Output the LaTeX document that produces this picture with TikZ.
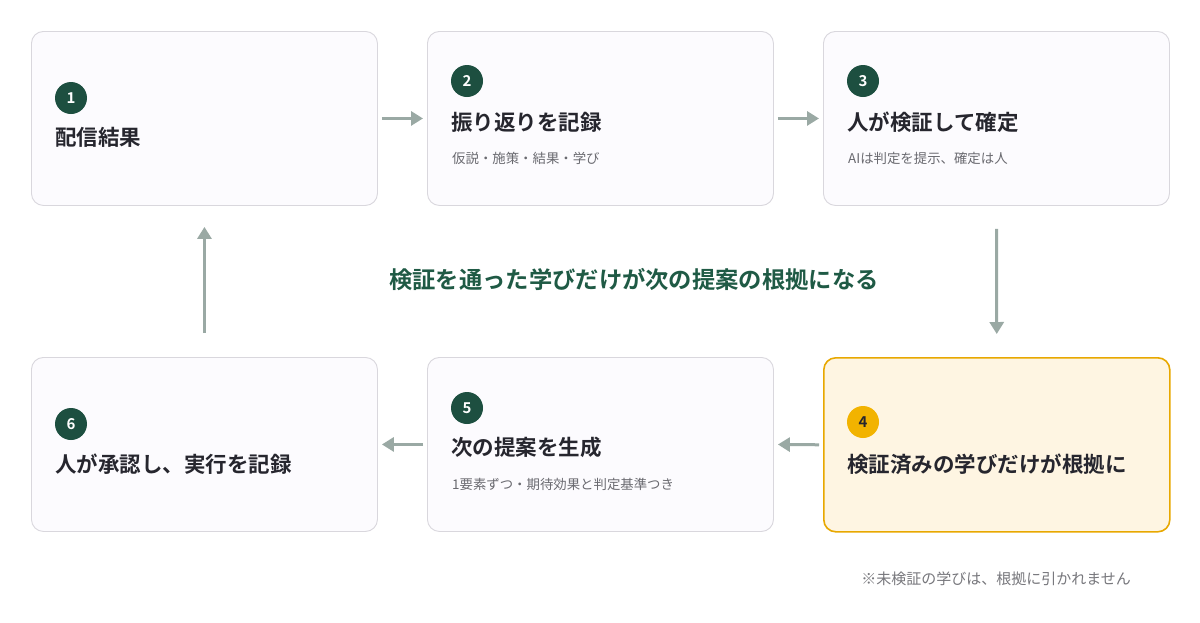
\documentclass[tikz,border=0pt]{standalone}
\usepackage{fontspec}
\setmainfont{Noto Sans CJK JP}[BoldFont={Noto Sans CJK JP Bold}]
\usetikzlibrary{arrows.meta}
\definecolor{bgc}{HTML}{FFFFFF}
\definecolor{boxfill}{HTML}{FCFBFE}
\definecolor{boxline}{HTML}{D9D7DD}
\definecolor{hlfill}{HTML}{FEF5E2}
\definecolor{hlline}{HTML}{E8A800}
\definecolor{badgegreen}{HTML}{1D4F40}
\definecolor{badgegold}{HTML}{F2B300}
\definecolor{titlec}{HTML}{26262E}
\definecolor{subc}{HTML}{6A6A70}
\definecolor{arrowc}{HTML}{9AA9A4}
\definecolor{centerc}{HTML}{1F5A45}
\definecolor{notec}{HTML}{77777C}
\tikzset{
  card/.style={draw=boxline, line width=0.9pt, fill=boxfill, rounded corners=12pt,
    minimum width=346pt, minimum height=174pt, inner sep=0pt, anchor=north west},
  hlcard/.style={card, draw=hlline, line width=1.6pt, fill=hlfill},
  badge/.style={circle, fill=badgegreen, minimum size=32pt, inner sep=0pt,
    text=white, font=\fontsize{15}{15}\selectfont\bfseries},
  hlbadge/.style={badge, fill=badgegold, text=titlec},
  ttl/.style={anchor=west, inner sep=0pt, text=titlec, font=\fontsize{21.5}{24}\selectfont\bfseries},
  sub/.style={anchor=west, inner sep=0pt, text=subc, font=\fontsize{13.4}{16}\selectfont},
  flow/.style={draw=arrowc, line width=3pt, -{Triangle[length=12pt,width=14pt]}},
}
\begin{document}
\begin{tikzpicture}[x=1pt,y=-1pt]
\path[use as bounding box, fill=bgc] (0,0) rectangle (1200,622);
% cards
\node[card] (c1) at (31,31) {};
\node[card] (c2) at (427,31) {};
\node[card] (c3) at (823,31) {};
\node[hlcard] (c4) at (823,357) {};
\node[card] (c5) at (427,357) {};
\node[card] (c6) at (31,357) {};
% badges and texts
\node[badge] (b1) at (71,98) {1};
\node[ttl] (t1) at (55,137) {配信結果};
\node[badge] (b2) at (467,81) {2};
\node[ttl] (t2) at (451,122) {振り返りを記録};
\node[sub] (s2) at (452,158) {仮説・施策・結果・学び};
\node[badge] (b3) at (863,81) {3};
\node[ttl] (t3) at (847,122) {人が検証して確定};
\node[sub] (s3) at (848,158) {AIは判定を提示、確定は人};
\node[hlbadge] (b4) at (863,422) {4};
\node[ttl] (t4) at (847,464) {検証済みの学びだけが根拠に};
\node[badge] (b5) at (467,408) {5};
\node[ttl] (t5) at (451,447) {次の提案を生成};
\node[sub] (s5) at (452,484) {1要素ずつ・期待効果と判定基準つき};
\node[badge] (b6) at (71,424) {6};
\node[ttl] (t6) at (55,464) {人が承認し、実行を記録};
% center text and note
\node[inner sep=0pt, text=centerc, font=\fontsize{23.3}{26}\selectfont\bfseries] (ct) at (634,280) {検証を通った学びだけが次の提案の根拠になる};
\node[anchor=east, inner sep=0pt, text=notec, font=\fontsize{15}{17}\selectfont] (nt) at (1131,579) {※未検証の学びは、根拠に引かれません};
% arrows
\draw[flow, shorten <=4pt, shorten >=4pt] (c1.east) -- (c2.west);
\draw[flow, shorten <=4pt, shorten >=4pt] (c2.east) -- (c3.west);
\draw[flow, shorten <=23pt, shorten >=23pt] (c3.south) -- (c4.north);
\draw[flow, shorten <=4pt, shorten >=4pt] (c4.west) -- (c5.east);
\draw[flow, shorten <=4pt, shorten >=4pt] (c5.west) -- (c6.east);
\draw[flow, shorten <=24pt, shorten >=21pt] (c6.north) -- (c1.south);
\end{tikzpicture}
\end{document}
